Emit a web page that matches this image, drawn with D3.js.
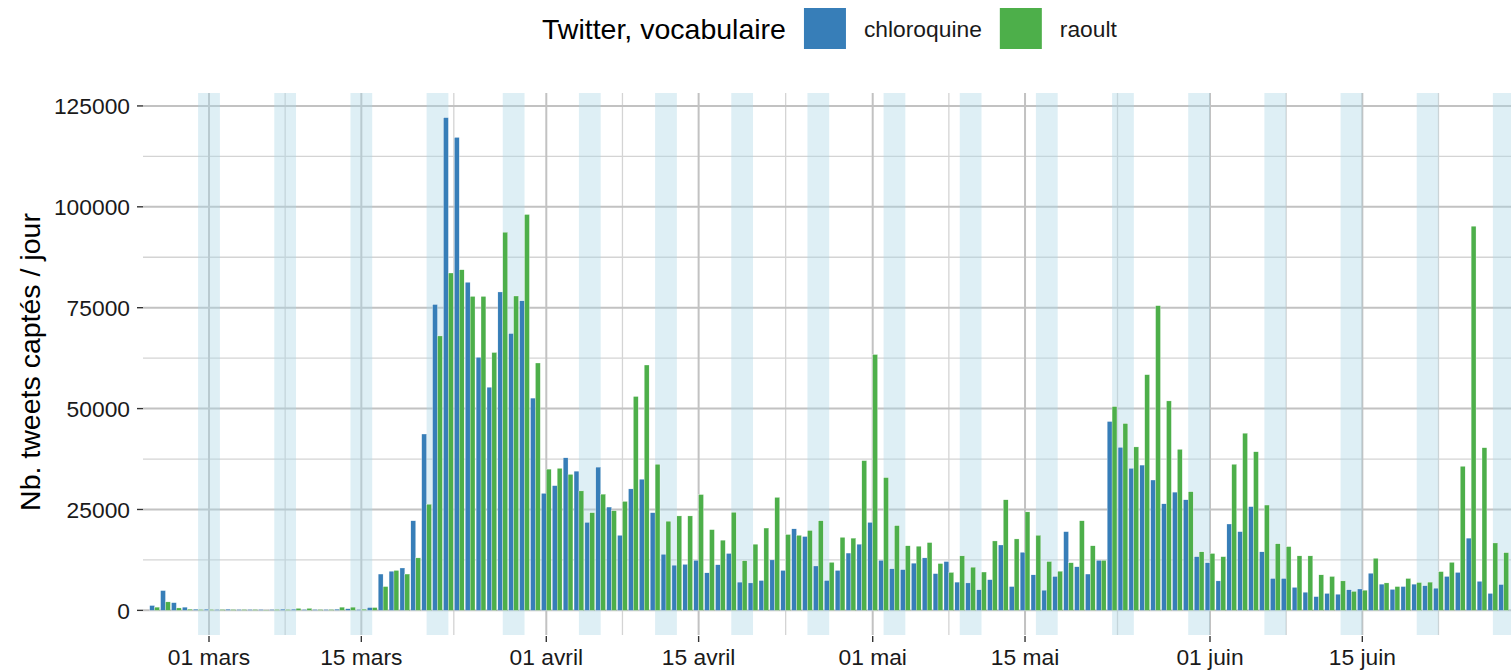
<!DOCTYPE html>
<html>
<head>
<meta charset="utf-8">
<script src="https://cdn.jsdelivr.net/npm/d3@7"></script>
<style>
  body { margin: 0; background: #fff; }
  text { font-family: "Liberation Sans", Arial, Helvetica, sans-serif; }
</style>
</head>
<body>
<div id="chart"></div>
<script>
// daily counts (thousands of tweets), one value per day from 25 feb to 28 juin 2020
const firstDay = "2020-02-25",
      lastDay  = "2020-06-28";

const chloroquine = [
  1.2, 4.9, 1.9, 0.8, 0.3,
  // mars
  0.3, 0.2, 0.3, 0.2, 0.2, 0.2, 0.2, 0.3, 0.3, 0.2, 0.2, 0.2, 0.3, 0.4, 0.2, 0.7,
  9.0, 9.7, 10.5, 22.2, 43.7, 75.8, 122.1, 117.2, 81.3, 62.7, 55.3, 78.9, 68.6, 76.7, 52.6,
  // avril
  29.0, 30.9, 37.8, 34.5, 21.8, 35.5, 25.6, 18.6, 30.1, 32.5, 24.2, 13.9, 11.2, 11.4, 12.4,
  9.3, 11.3, 14.1, 7.0, 6.8, 7.4, 12.5, 9.9, 20.2, 18.3, 11.0, 7.4, 9.9, 14.2, 16.4,
  // mai
  21.8, 12.4, 10.3, 10.1, 11.7, 13.0, 9.1, 12.1, 7.0, 6.8, 5.1, 7.6, 16.2, 5.9, 14.4, 8.8,
  5.0, 8.4, 19.5, 10.8, 9.0, 12.4, 46.8, 40.4, 35.2, 36.0, 32.3, 26.4, 29.3, 27.4, 13.3,
  // juin
  11.8, 7.3, 21.4, 19.5, 25.7, 14.5, 7.9, 7.9, 5.7, 4.5, 3.4, 4.2, 4.0, 5.1,
  5.3, 9.2, 6.5, 5.2, 5.9, 6.5, 6.1, 5.5, 8.4, 9.4, 17.9, 7.2, 4.2, 6.4
];

const raoult = [
  0.8, 2.1, 0.6, 0.3, 0.2,
  // mars
  0.2, 0.2, 0.2, 0.2, 0.2, 0.1, 0.2, 0.2, 0.5, 0.5, 0.2, 0.2, 0.8, 0.8, 0.3, 0.7,
  5.9, 9.9, 9.0, 13.0, 26.3, 68.0, 83.6, 84.4, 77.8, 77.8, 63.9, 93.7, 77.9, 98.1, 61.3,
  // avril
  35.0, 35.2, 33.7, 29.6, 24.2, 28.8, 24.7, 27.0, 53.0, 60.8, 36.2, 22.1, 23.4, 23.4, 28.7,
  20.0, 17.4, 24.3, 12.3, 16.4, 20.4, 28.0, 18.8, 18.6, 19.8, 22.2, 11.9, 18.1, 17.9, 37.1,
  // mai
  63.4, 32.9, 21.0, 16.0, 15.9, 16.8, 11.6, 9.4, 13.5, 10.7, 9.5, 17.2, 27.4, 17.7, 24.4, 18.6,
  12.1, 9.7, 11.8, 22.2, 16.0, 12.4, 50.5, 46.3, 40.5, 58.4, 75.5, 51.9, 39.9, 29.4, 14.5,
  // juin
  14.1, 13.3, 36.2, 43.9, 39.3, 26.1, 16.5, 15.8, 13.5, 13.5, 8.8, 8.4, 7.3, 4.7,
  5.0, 12.9, 6.8, 5.9, 7.9, 6.9, 7.0, 9.6, 11.9, 35.7, 95.2, 40.3, 16.7, 14.3
];

const seriesNames  = ["chloroquine", "raoult"];
const seriesColors = ["#377eb8", "#4daf4a"];

const xTickDates  = ["2020-03-01", "2020-03-15", "2020-04-01", "2020-04-15",
                     "2020-05-01", "2020-05-15", "2020-06-01", "2020-06-15"];
const xTickLabels = ["01 mars", "15 mars", "01 avril", "15 avril",
                     "01 mai", "15 mai", "01 juin", "15 juin"];
const yTicks = [0, 25000, 50000, 75000, 100000, 125000];

const legendTitle = "Twitter, vocabulaire";
const yTitle = "Nb. tweets captés / jour";

////////////////// layout ////////////////////////////////////

const width = 1511, height = 671;
const panel = {left: 143, top: 93, right: 1511, bottom: 635};
const DAY = 864e5;
const fontSize = 28.5, smallSize = 22.8;

let svg = d3.select("#chart")
            .append("svg")
            .attr("width", width)
            .attr("height", height);

//days + rows
let days = d3.utcDay.range(new Date(firstDay), new Date(+new Date(lastDay) + DAY));
let rows = days.map((d, i) => ({date: d, values: [chloroquine[i] * 1000, raoult[i] * 1000]}));

// x scale (dates)
let x = d3.scaleUtc()
          .domain([new Date("2020-03-01"), new Date("2020-06-01")])
          .range([209, 1210]);

// y scale, ggplot-like 5% expansion
let yMax = d3.max(rows, d => d3.max(d.values));
let y = d3.scaleLinear()
          .domain([-0.05 * yMax, yMax * 1.05])
          .range([panel.bottom, panel.top]);

let clip = svg.append("clipPath").attr("id", "panelclip")
              .append("rect")
              .attr("x", panel.left).attr("y", panel.top)
              .attr("width", panel.right - panel.left)
              .attr("height", panel.bottom - panel.top);

let plot = svg.append("g").attr("clip-path", "url(#panelclip)");

//grid lines: minor first, then major
let yMinor = yTicks.slice(0, -1).map((t, i) => (t + yTicks[i + 1]) / 2);
let xMajor = xTickDates.map(s => new Date(s));
let xMinor = xMajor.slice(0, -1).map((t, i) => new Date((+t + +xMajor[i + 1]) / 2));
xMinor.push(new Date(+xMajor[xMajor.length - 1] + 7 * DAY));

plot.selectAll(".ymin").data(yMinor).enter()
    .append("line")
    .attr("x1", panel.left).attr("x2", panel.right)
    .attr("y1", d => y(d)).attr("y2", d => y(d))
    .attr("stroke", "#d4d4d4").attr("stroke-width", 1.3);
plot.selectAll(".xmin").data(xMinor).enter()
    .append("line")
    .attr("x1", d => x(d)).attr("x2", d => x(d))
    .attr("y1", panel.top).attr("y2", panel.bottom)
    .attr("stroke", "#d4d4d4").attr("stroke-width", 1.3);
plot.selectAll(".ymaj").data(yTicks).enter()
    .append("line")
    .attr("x1", panel.left).attr("x2", panel.right)
    .attr("y1", d => y(d)).attr("y2", d => y(d))
    .attr("stroke", "#c2c2c2").attr("stroke-width", 2);
plot.selectAll(".xmaj").data(xMajor).enter()
    .append("line")
    .attr("x1", d => x(d)).attr("x2", d => x(d))
    .attr("y1", panel.top).attr("y2", panel.bottom)
    .attr("stroke", "#c2c2c2").attr("stroke-width", 2);

// week-end bands (saturday -> monday)
let saturdays = days.filter(d => d.getUTCDay() === 6);
plot.selectAll(".we").data(saturdays).enter()
    .append("rect")
    .attr("x", d => x(d))
    .attr("width", d => x(new Date(+d + 2 * DAY)) - x(d))
    .attr("y", panel.top)
    .attr("height", panel.bottom - panel.top)
    .attr("fill", "rgb(173,216,230)")
    .attr("fill-opacity", 0.4);

//bars, dodged (width 0.9 day)
let groups = plot.selectAll(".day").data(rows).enter().append("g");
seriesNames.forEach(function(name, k) {
  groups.append("rect")
        .attr("x", d => x(new Date(+d.date + (k === 0 ? -0.45 : 0) * DAY)))
        .attr("width", d => x(new Date(+d.date + 0.45 * DAY)) - x(d.date))
        .attr("y", d => y(d.values[k]))
        .attr("height", d => y(0) - y(d.values[k]))
        .attr("fill", seriesColors[k])
        .attr("stroke", "#fff")
        .attr("stroke-width", 0.3);
});

// y axis ticks + labels
svg.selectAll(".ytick").data(yTicks).enter()
   .append("line")
   .attr("x1", panel.left - 6).attr("x2", panel.left)
   .attr("y1", d => y(d)).attr("y2", d => y(d))
   .attr("stroke", "#333").attr("stroke-width", 1.4);
svg.selectAll(".ylab").data(yTicks).enter()
   .append("text")
   .attr("x", panel.left - 13)
   .attr("y", d => y(d))
   .attr("dy", "0.36em")
   .style("text-anchor", "end")
   .style("font-size", smallSize + "px")
   .attr("fill", "#1a1a1a")
   .text(d => d3.format("d")(d));

// x axis ticks + labels
svg.selectAll(".xtick").data(xMajor).enter()
   .append("line")
   .attr("x1", d => x(d)).attr("x2", d => x(d))
   .attr("y1", panel.bottom + 1).attr("y2", panel.bottom + 7)
   .attr("stroke", "#333").attr("stroke-width", 1.4);
svg.selectAll(".xlab").data(xMajor).enter()
   .append("text")
   .attr("x", d => x(d))
   .attr("y", 665)
   .style("text-anchor", "middle")
   .style("font-size", smallSize + "px")
   .attr("fill", "#1a1a1a")
   .text((d, i) => xTickLabels[i]);

// y title
svg.append("text")
   .attr("transform", `translate(40,${(panel.top + panel.bottom) / 2 - 2}) rotate(-90)`)
   .style("text-anchor", "middle")
   .style("font-size", fontSize + "px")
   .attr("fill", "#000")
   .text(yTitle);

// legend on top
let legend = svg.append("g");
let lx = 542;
let lt = legend.append("text")
               .attr("x", lx).attr("y", 39)
               .style("font-size", fontSize + "px")
               .attr("fill", "#000")
               .text(legendTitle);
lx += lt.node().getComputedTextLength() + 18;
seriesNames.forEach(function(name, k) {
  legend.append("rect")
        .attr("x", lx).attr("y", 8)
        .attr("width", 42).attr("height", 41)
        .attr("fill", seriesColors[k]);
  lx += 42 + 18;
  let t = legend.append("text")
                .attr("x", lx).attr("y", 37)
                .style("font-size", smallSize + "px")
                .attr("fill", "#1a1a1a")
                .text(name);
  lx += t.node().getComputedTextLength() + 18;
});
</script>
</body>
</html>
